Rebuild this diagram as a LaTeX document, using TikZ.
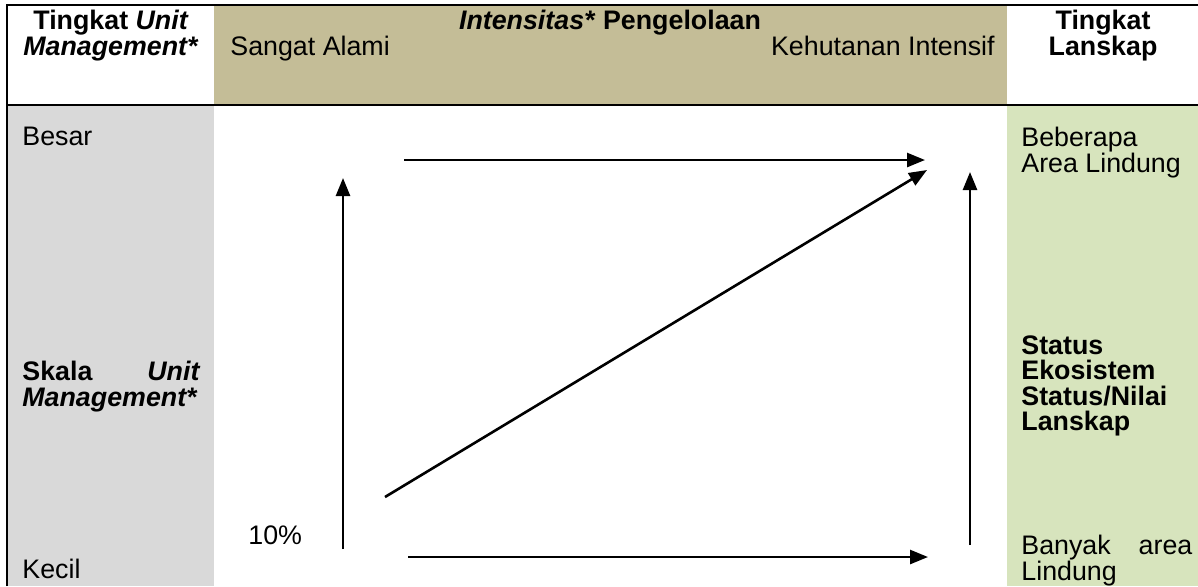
\documentclass[tikz,border=0pt]{standalone}
\usepackage{fontspec}
\setmainfont{Liberation Sans}
\usepackage{xcolor}
\usetikzlibrary{arrows.meta,positioning}

\definecolor{tanhead}{HTML}{C4BD97}
\definecolor{grayside}{HTML}{D9D9D9}
\definecolor{greenside}{HTML}{D7E4BD}

\begin{document}
\begin{tikzpicture}[
  x=0.5pt, y=-0.5pt,
  txt/.style={inner sep=0pt, align=left, font=\fontsize{13.4pt}{12.8pt}\selectfont},
  hdr/.style={inner sep=0pt, align=center, font=\fontsize{13.4pt}{12.8pt}\selectfont\bfseries},
  flow/.style={line width=1.3pt, -{Triangle[length=9pt,width=7pt]}},
  rule/.style={line width=1pt}
]
\useasboundingbox (0,0) rectangle (1198,586);
% shaded columns and header
\fill[tanhead] (214,6) rectangle (1007,104);
\fill[grayside] (8,106) rectangle (214,586);
\fill[greenside] (1007,106) rectangle (1198,586);
\draw[rule] (7,586) -- (7,5) -- (1198,5);
\draw[rule] (7,105) -- (1198,105);

% header
\node[hdr, anchor=north] (unitHead) at (111,10) {Tingkat \textit{Unit}\\\textit{Management*}};
\node[hdr, anchor=north] (intHead) at (610,10) {\textit{Intensitas*} Pengelolaan};
\node[txt, anchor=north west] (natural) at (230,36) {Sangat Alami};
\node[txt, anchor=north east] (intensive) at (995,36) {Kehutanan Intensif};
\node[hdr, anchor=north] (landHead) at (1103,10) {Tingkat\\Lanskap};

% left column
\node[txt, anchor=north west] (large) at (22,127) {Besar};
\node[txt, anchor=north west, text width=89pt, font=\fontsize{13.4pt}{12.8pt}\selectfont\bfseries] (scale) at (22,361) {Skala\hfill\textit{Unit}\\\textit{Management*}};
\node[txt, anchor=north west] (small) at (22,559) {Kecil};
\node[txt, anchor=north west] (pct) at (248,525) {10\%};

% right column
\node[txt, anchor=north west] (fewPA) at (1021,127) {Beberapa\\Area Lindung};
\node[txt, anchor=north west, font=\fontsize{13.4pt}{12.8pt}\selectfont\bfseries] (status) at (1021,335) {Status\\Ekosistem\\Status/Nilai\\Lanskap};
\node[txt, anchor=north west, text width=85.5pt] (manyPA) at (1021,535) {Banyak\hfill area\\Lindung};

% arrows
\coordinate (lvA) at (343,549);
\coordinate (lvB) at (343,178);
\coordinate (thA) at (404,160);
\coordinate (thB) at (925,160);
\coordinate (dgA) at (385,497);
\coordinate (dgB) at (927,170);
\coordinate (rvA) at (970,545);
\coordinate (rvB) at (970,172);
\coordinate (bhA) at (408,557);
\coordinate (bhB) at (928,557);
\draw[flow] (lvA) -- (lvB);
\draw[flow] (thA) -- (thB);
\draw[flow] (dgA) -- (dgB);
\draw[flow] (rvA) -- (rvB);
\draw[flow] (bhA) -- (bhB);
\end{tikzpicture}
\end{document}
